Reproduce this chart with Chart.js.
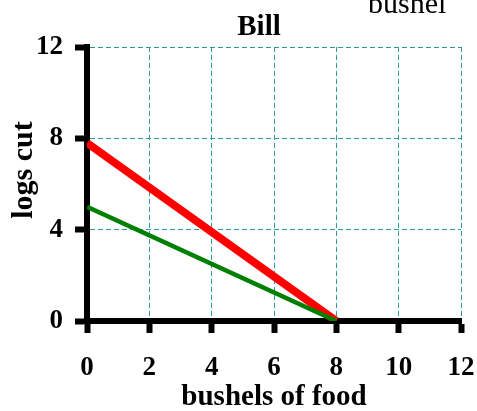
<!DOCTYPE html>
<html>
<head>
<meta charset="utf-8">
<script src="https://cdn.jsdelivr.net/npm/chart.js@4"></script>
<style>
  html, body { margin: 0; padding: 0; background: #fff; }
  #wrap { width: 477px; height: 411px; position: relative; }
</style>
</head>
<body>
<div id="wrap"><canvas id="ppfChart"></canvas></div>
<script>
// Chart data
const xTicks = [0, 2, 4, 6, 8, 10, 12];
const yTicks = [0, 4, 8, 12];
const bushels = [0, 8];
const logsRed = [7.8, 0];
const logsGreen = [5, 0];

const SERIF = '"Liberation Serif", "Times New Roman", serif';
const GRID_TEAL = '#2a9a9a';

function toPoints(xs, ys) {
    return xs.map((x, i) => ({ x: x, y: ys[i] }));
}

// Extra texts: title, clipped heading, axis titles
const textPlugin = {
    id: 'textPlugin',
    afterDraw(chart) {
        const ctx = chart.ctx;
        ctx.save();
        ctx.fillStyle = '#000';

        ctx.font = '30px ' + SERIF;
        ctx.textAlign = 'left';
        ctx.textBaseline = 'alphabetic';
        ctx.fillText('bushel', 368, 13);

        ctx.font = 'bold 29px ' + SERIF;
        ctx.textAlign = 'center';
        ctx.fillText('Bill', 259, 35);

        ctx.fillText('bushels of food', 274, 405);

        ctx.font = 'bold 30px ' + SERIF;
        ctx.translate(32, 170);
        ctx.rotate(-Math.PI / 2);
        ctx.fillText('logs cut', 0, 0);
        ctx.restore();
    }
};

// fixed axis box sizes so the plot area lands where the original does
function fixX(s) { s.height = 90; s.paddingLeft = 0; s.paddingRight = 0; }
function fixY(s) { s.width = 87; s.paddingTop = 0; s.paddingBottom = 0; }

const ctx = document.getElementById('ppfChart').getContext('2d');
const ppfChart = new Chart(ctx, {
    type: 'line',
    data: {
        datasets: [
            {
                label: 'green',
                data: toPoints(bushels, logsGreen),
                borderColor: '#008000',
                borderWidth: 4.5,
                pointRadius: 0,
                fill: false
            },
            {
                label: 'red',
                data: toPoints(bushels, logsRed),
                borderColor: '#ff0000',
                borderWidth: 8,
                pointRadius: 0,
                fill: false
            }
        ]
    },
    options: {
        responsive: true,
        maintainAspectRatio: false,
        animation: false,
        layout: { padding: { left: 0, top: 47, right: 16, bottom: 0 } },
        plugins: {
            legend: { display: false },
            tooltip: { enabled: false },
            title: { display: false }
        },
        scales: {
            x: {
                type: 'linear',
                min: 0,
                max: 12,
                afterBuildTicks: s => { s.ticks = xTicks.map(v => ({ value: v })); },
                afterFit: fixX,
                ticks: {
                    color: '#000',
                    padding: 19,
                    maxRotation: 0,
                    font: { family: SERIF, size: 27, weight: 'bold' }
                },
                grid: {
                    color: GRID_TEAL,
                    lineWidth: 1,
                    tickColor: '#000',
                    tickWidth: 6,
                    tickLength: 12,
                    tickBorderDash: []
                },
                border: { display: true, color: '#000', width: 6, dash: [5, 3] }
            },
            y: {
                type: 'linear',
                min: 0,
                max: 12,
                afterBuildTicks: s => { s.ticks = yTicks.map(v => ({ value: v })); },
                afterFit: fixY,
                ticks: {
                    color: '#000',
                    padding: 12,
                    font: { family: SERIF, size: 27, weight: 'bold' }
                },
                grid: {
                    color: GRID_TEAL,
                    lineWidth: 1,
                    tickColor: '#000',
                    tickWidth: 6,
                    tickLength: 12,
                    tickBorderDash: []
                },
                border: { display: true, color: '#000', width: 6, dash: [5, 3] }
            }
        }
    },
    plugins: [textPlugin]
});
</script>
</body>
</html>
